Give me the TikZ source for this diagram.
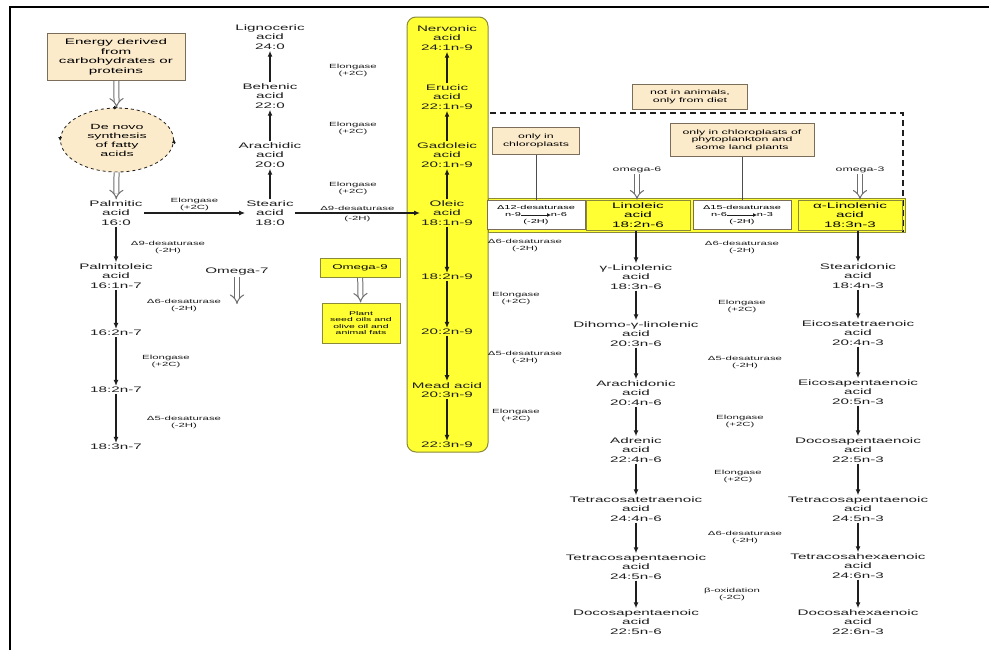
\documentclass[tikz,border=0pt]{standalone}
\usepackage{fontspec}
\setmainfont{Liberation Sans}[FakeStretch=1.9]
\usetikzlibrary{shapes,arrows.meta,positioning,calc}
\definecolor{faYellow}{HTML}{FFFF33}
\definecolor{faYellowLine}{HTML}{8A8A3A}
\definecolor{faBeige}{HTML}{FCEBCB}
\definecolor{faBrown}{HTML}{7A6E5A}
\definecolor{faInk}{HTML}{1E1E1E}
\definecolor{faGrey}{HTML}{6E6E6E}
\tikzset{
    faAcid/.style={
        font=\fontsize{8}{9.6}\selectfont,
        align=center,
        inner sep=1pt,
        text=faInk
    },
    faEnzyme/.style={
        font=\fontsize{6}{7}\selectfont,
        align=center,
        inner sep=1pt,
        text=faInk
    },
    faNote/.style={
        rectangle,
        draw=faBrown,
        line width=1pt,
        fill=faBeige,
        font=\fontsize{6.5}{7.6}\selectfont,
        align=center,
        inner sep=2pt
    },
    faCycle/.style={
        ellipse,
        draw=faInk,
        dashed,
        line width=0.8pt,
        fill=faBeige,
        minimum width=113,
        minimum height=64,
        inner sep=0pt,
        font=\fontsize{7.5}{9}\selectfont,
        align=center
    },
    % yellow highlights
    faBand/.style={rectangle, draw=faYellowLine, line width=1pt, fill=faYellow},
    faYellowBox/.style={faBand, align=center, inner sep=1pt},
    faSwitch/.style={rectangle, draw=faBrown, line width=1pt, fill=white,
        font=\fontsize{5.8}{6.8}\selectfont, align=center, inner sep=1pt},
    % arrows
    faStep/.style={-{Latex[length=6pt,width=5pt]}, line width=1.3pt, draw=faInk},
    faSmallStep/.style={-{Latex[length=4pt,width=4pt]}, line width=0.8pt, draw=faInk},
    faSource/.style={-{Implies}, double=white, double distance=4pt, line width=1pt, draw=faGrey},
    faLink/.style={line width=1pt, draw=faGrey!70!black},
    faDash/.style={dashed, line width=1.3pt, dash pattern=on 6pt off 4pt, draw=faInk}
}

\begin{document}
\begin{tikzpicture}[x=1pt,y=-1pt]
    \useasboundingbox (0,0) rectangle (989,654);
    \fill[white] (0,0) rectangle (989,654);
    \draw[line width=2pt] (10,650) -- (10,7) -- (989,7);

    % highlighted bands
    \node[faBand, minimum width=81, minimum height=435, rounded corners=9pt] (n9band) at (447.5,234.5) {};
    \node[faBand, minimum width=417, minimum height=34] (plantband) at (696.5,215) {};

    % plant-only frame
    \coordinate (dashNW) at (490,113);
    \coordinate (dashNE) at (903,113);
    \coordinate (dashSE) at (903,232);
    \draw[faDash] (dashNW) -- (dashNE) -- (dashSE);

    % de novo synthesis and omega-7 series
    \node[faNote, minimum width=138, minimum height=47, font=\fontsize{8}{9.6}\selectfont] (energy) at (116,57) {Energy derived\\from\\carbohydrates or\\proteins};
    \node[faCycle] (denovo) at (117,140) {De novo\\synthesis\\of fatty\\acids};
    \draw[faSmallStep] ([yshift=4pt]denovo.west) -- ([yshift=-1pt]denovo.west);
    \draw[faSmallStep] ([yshift=-4pt]denovo.east) -- ([yshift=1pt]denovo.east);
    \draw[faSmallStep] ([xshift=-4pt]denovo.north) -- ([xshift=1pt]denovo.north);
    \node[faAcid] (palmitic) at (116,213) {Palmitic\\acid\\16:0};
    \node[faAcid] (palmitoleic) at (116,276) {Palmitoleic\\acid\\16:1n-7};
    \node[faAcid] (c16n7) at (116,333) {16:2n-7};
    \node[faAcid] (c18n7a) at (116,390) {18:2n-7};
    \node[faAcid] (c18n7b) at (116,447) {18:3n-7};
    \draw[faSource] (energy) -- (denovo);
    \draw[faSource] (denovo) -- (palmitic);
    \draw[faStep] (palmitic) -- (palmitoleic);
    \draw[faStep] (palmitoleic) -- (c16n7);
    \draw[faStep] (c16n7) -- (c18n7a);
    \draw[faStep] (c18n7a) -- (c18n7b);
    \node[faEnzyme] (e7a) at (168,247) {Δ9-desaturase\\(-2H)};
    \node[faEnzyme] (e7b) at (184,305) {Δ6-desaturase\\(-2H)};
    \node[faEnzyme] (e7c) at (166,361) {Elongase\\(+2C)};
    \node[faEnzyme] (e7d) at (184,422) {Δ5-desaturase\\(-2H)};
    \node[faAcid] (omega7) at (237,272) {Omega-7};
    \coordinate (omega7end) at (237,304);
    \draw[faSource] (omega7) -- (omega7end);

    % saturated elongation
    \node[faAcid] (stearic) at (270,213) {Stearic\\acid\\18:0};
    \node[faAcid] (arachidic) at (270,155) {Arachidic\\acid\\20:0};
    \node[faAcid] (behenic) at (270,96) {Behenic\\acid\\22:0};
    \node[faAcid] (lignoceric) at (270,37) {Lignoceric\\acid\\24:0};
    \draw[faStep] (palmitic) -- (stearic) node[faEnzyme, midway, above=1pt] (e0a) {Elongase\\(+2C)};
    \draw[faStep] (stearic) -- (arachidic);
    \draw[faStep] (arachidic) -- (behenic);
    \draw[faStep] (behenic) -- (lignoceric);
    \node[faEnzyme] (e0b) at (353,70) {Elongase\\(+2C)};
    \node[faEnzyme] (e0c) at (353,128) {Elongase\\(+2C)};
    \node[faEnzyme] (e0d) at (353,188) {Elongase\\(+2C)};

    % omega-9 series
    \node[faAcid] (nervonic) at (447,38) {Nervonic\\acid\\24:1n-9};
    \node[faAcid] (erucic) at (447,97) {Erucic\\acid\\22:1n-9};
    \node[faAcid] (gadoleic) at (447,155) {Gadoleic\\acid\\20:1n-9};
    \node[faAcid] (oleic) at (447,213) {Oleic\\acid\\18:1n-9};
    \node[faAcid] (c18n9) at (447,277) {18:2n-9};
    \node[faAcid] (c20n9) at (447,332) {20:2n-9};
    \node[faAcid] (mead) at (447,390) {Mead acid\\20:3n-9};
    \node[faAcid] (c22n9) at (447,445) {22:3n-9};
    \draw[faStep] (stearic) -- (oleic)
        node[faEnzyme, midway, above=1pt] (e9a) {Δ9-desaturase}
        node[faEnzyme, midway, below=1pt] (e9b) {(-2H)};
    \draw[faStep] (oleic) -- (gadoleic);
    \draw[faStep] (gadoleic) -- (erucic);
    \draw[faStep] (erucic) -- (nervonic);
    \draw[faStep] (oleic) -- (c18n9);
    \draw[faStep] (c18n9) -- (c20n9);
    \draw[faStep] (c20n9) -- (mead);
    \draw[faStep] (mead) -- (c22n9);
    \node[faEnzyme] (e9c) at (525,245) {Δ6-desaturase\\(-2H)};
    \node[faEnzyme] (e9d) at (516,298) {Elongase\\(+2C)};
    \node[faEnzyme] (e9e) at (525,357) {Δ5-desaturase\\(-2H)};
    \node[faEnzyme] (e9f) at (516,415) {Elongase\\(+2C)};
    \node[faYellowBox, minimum width=80, minimum height=19, font=\fontsize{7}{8}\selectfont] (omega9) at (360,268) {Omega-9};
    \node[faYellowBox, minimum width=78, minimum height=40, font=\fontsize{5.5}{6.6}\selectfont] (dietn9) at (361,323) {Plant\\seed oils and\\olive oil and\\animal fats};
    \draw[faSource] (omega9) -- (dietn9);

    % plant-only desaturases
    \node[faNote, minimum width=115, minimum height=25] (dietonly) at (690,97) {not in animals,\\only from diet};
    \node[faNote, minimum width=87, minimum height=27] (plantonly) at (536,141) {only in\\chloroplasts};
    \node[faNote, minimum width=144, minimum height=33] (algaeonly) at (742,140) {only in chloroplasts of\\phytoplankton and\\some land plants};
    \node[faSwitch, minimum width=98, minimum height=29] (d12) at (536,215) {Δ12-desaturase\\n-9\hspace{30pt}n-6\\(-2H)};
    \node[faSwitch, minimum width=98, minimum height=29] (d15) at (742,215) {Δ15-desaturase\\n-6\hspace{30pt}n-3\\(-2H)};
    \draw[faSmallStep] ([xshift=-15pt]d12.center) -- ([xshift=15pt]d12.center);
    \draw[faSmallStep] ([xshift=-15pt]d15.center) -- ([xshift=15pt]d15.center);
    \node[faYellowBox, minimum width=104, minimum height=30, font=\fontsize{8}{9.6}\selectfont] (linoleic) at (638,215) {Linoleic\\acid\\18:2n-6};
    \node[faYellowBox, minimum width=104, minimum height=30, font=\fontsize{8}{9.6}\selectfont] (alpha) at (850,215) {α-Linolenic\\acid\\18:3n-3};
    \draw[faLink] (plantonly) -- (d12);
    \draw[faLink] (algaeonly) -- (d15);
    \node[faAcid, font=\fontsize{6.5}{7.6}\selectfont] (omega6) at (637,170) {omega-6};
    \node[faAcid, font=\fontsize{6.5}{7.6}\selectfont] (omega3) at (860,170) {omega-3};
    \draw[faSource] (omega6) -- (omega6 |- linoleic.north);
    \draw[faSource] (omega3) -- (omega3 |- alpha.north);

    % omega-6 series
    \node[faAcid] (gla) at (636,277) {γ-Linolenic\\acid\\18:3n-6};
    \node[faAcid] (dgla) at (636,334) {Dihomo-γ-linolenic\\acid\\20:3n-6};
    \node[faAcid] (arachidonic) at (636,393) {Arachidonic\\acid\\20:4n-6};
    \node[faAcid] (adrenic) at (636,450) {Adrenic\\acid\\22:4n-6};
    \node[faAcid] (tta) at (636,509) {Tetracosatetraenoic\\acid\\24:4n-6};
    \node[faAcid] (tpa6) at (636,567) {Tetracosapentaenoic\\acid\\24:5n-6};
    \node[faAcid] (dpa6) at (636,622) {Docosapentaenoic\\acid\\22:5n-6};
    \draw[faStep] (gla |- linoleic.south) -- (gla);
    \draw[faStep] (gla) -- (dgla);
    \draw[faStep] (dgla) -- (arachidonic);
    \draw[faStep] (arachidonic) -- (adrenic);
    \draw[faStep] (adrenic) -- (tta);
    \draw[faStep] (tta) -- (tpa6);
    \draw[faStep] (tpa6) -- (dpa6);

    % omega-3 series
    \node[faAcid] (stearidonic) at (858,276) {Stearidonic\\acid\\18:4n-3};
    \node[faAcid] (eta) at (858,333) {Eicosatetraenoic\\acid\\20:4n-3};
    \node[faAcid] (epa) at (858,392) {Eicosapentaenoic\\acid\\20:5n-3};
    \node[faAcid] (dpa3) at (858,450) {Docosapentaenoic\\acid\\22:5n-3};
    \node[faAcid] (tpa3) at (858,509) {Tetracosapentaenoic\\acid\\24:5n-3};
    \node[faAcid] (tha) at (858,566) {Tetracosahexaenoic\\acid\\24:6n-3};
    \node[faAcid] (dha) at (858,622) {Docosahexaenoic\\acid\\22:6n-3};
    \draw[faStep] (stearidonic |- alpha.south) -- (stearidonic);
    \draw[faStep] (stearidonic) -- (eta);
    \draw[faStep] (eta) -- (epa);
    \draw[faStep] (epa) -- (dpa3);
    \draw[faStep] (dpa3) -- (tpa3);
    \draw[faStep] (tpa3) -- (tha);
    \draw[faStep] (tha) -- (dha);

    % shared enzymes
    \node[faEnzyme] (s1) at (742,247) {Δ6-desaturase\\(-2H)};
    \node[faEnzyme] (s2) at (742,306) {Elongase\\(+2C)};
    \node[faEnzyme] (s3) at (745,362) {Δ5-desaturase\\(-2H)};
    \node[faEnzyme] (s4) at (740,421) {Elongase\\(+2C)};
    \node[faEnzyme] (s5) at (738,476) {Elongase\\(+2C)};
    \node[faEnzyme] (s6) at (745,537) {Δ6-desaturase\\(-2H)};
    \node[faEnzyme] (s7) at (732,594) {β-oxidation\\(-2C)};
\end{tikzpicture}
\end{document}
